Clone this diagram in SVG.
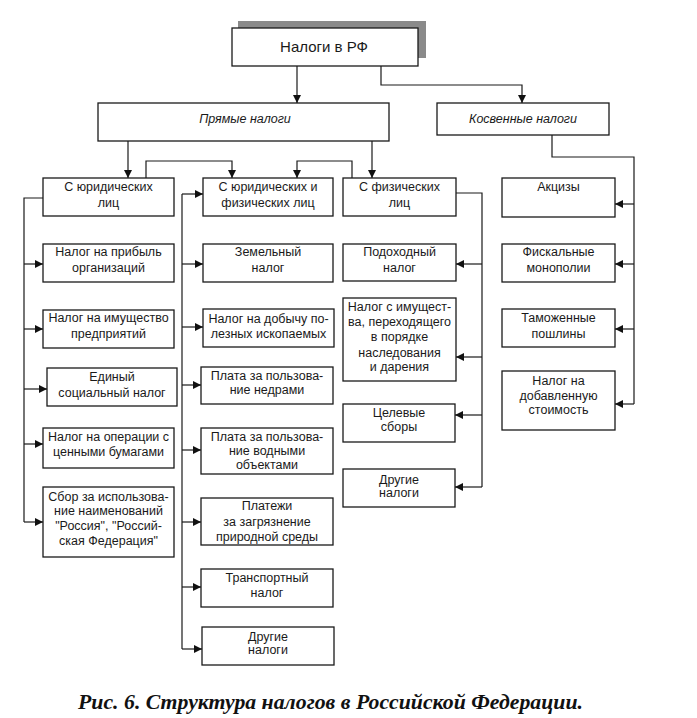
<svg xmlns="http://www.w3.org/2000/svg" width="697" height="718" viewBox="0 0 697 718">
<defs>
<marker id="ah" viewBox="0 0 10 10" refX="10" refY="5" markerWidth="9" markerHeight="8" markerUnits="userSpaceOnUse" orient="auto"><path d="M0,0 L10,5 L0,10 Z" fill="#111"/></marker>
<style>
.b{fill:#fff;stroke:#1a1a1a;stroke-width:1.3}
.t{font-family:"Liberation Sans",Arial,sans-serif;font-size:12.5px;fill:#1a1a1a;text-anchor:middle}
.i{font-style:italic}
.c{fill:none;stroke:#1a1a1a;stroke-width:1.2}
.a{marker-end:url(#ah)}
</style>
</defs>
<rect width="697" height="718" fill="#fff"/>
<g id="connectors">
<path class="c a" d="M297,66 V103"/>
<path class="c a" d="M381,66 V85 H522 V103"/>
<path class="c a" d="M128,141 V178"/>
<path class="c a" d="M372,141 V178"/>
<path class="c a" d="M146,178 V161 H232 V178"/>
<path class="c a" d="M352,178 V161 H297 V178"/>
<path class="c" d="M552,135 V157 H634 V404"/>
<path class="c a" d="M634,204 H615"/>
<path class="c a" d="M634,264 H615"/>
<path class="c a" d="M634,329 H615"/>
<path class="c a" d="M634,404 H615"/>
<path class="c" d="M43,198 H24 V522"/>
<path class="c a" d="M24,264 H43"/>
<path class="c a" d="M24,329 H43"/>
<path class="c a" d="M24,389 H47"/>
<path class="c a" d="M24,444 H43"/>
<path class="c a" d="M24,522 H43"/>
<path class="c" d="M182,194 V649"/>
<path class="c a" d="M182,194 H203"/>
<path class="c a" d="M182,264 H203"/>
<path class="c a" d="M182,327 H203"/>
<path class="c a" d="M182,385 H201"/>
<path class="c a" d="M182,450 H201"/>
<path class="c a" d="M182,522 H201"/>
<path class="c a" d="M182,587 H201"/>
<path class="c a" d="M182,649 H202"/>
<path class="c" d="M456,193 H482 V487"/>
<path class="c a" d="M482,264 H456"/>
<path class="c a" d="M482,357 H456"/>
<path class="c a" d="M482,415 H455"/>
<path class="c a" d="M482,487 H455"/>
</g>
<g id="n-top">
<rect x="238" y="21" width="188" height="37" fill="#8a8a8a"/>
<rect class="b" x="232" y="28" width="186" height="38"/>
<text class="t" x="324" y="52" style="font-size:15px">Налоги в РФ</text>
</g>
<g id="n-pryamye"><rect class="b" x="98" y="103" width="291" height="38"/><text class="t i" x="245" y="122.5">Прямые налоги</text></g>
<g id="n-kosv"><rect class="b" x="437" y="103" width="172" height="32"/><text class="t i" x="523" y="122.5">Косвенные налоги</text></g>

<g id="n-L0"><rect class="b" x="43" y="178" width="131" height="38"/><text class="t" x="108.5" y="191">С юридических</text><text class="t" x="108.5" y="206.5">лиц</text></g>
<g id="n-L1"><rect class="b" x="43" y="244" width="131" height="38"/><text class="t" x="108.5" y="256">Налог на прибыль</text><text class="t" x="108.5" y="271.5">организаций</text></g>
<g id="n-L2"><rect class="b" x="43" y="310" width="131" height="38"/><text class="t" x="108.5" y="322">Налог на имущество</text><text class="t" x="108.5" y="338">предприятий</text></g>
<g id="n-L3"><rect class="b" x="47" y="368" width="130" height="38"/><text class="t" x="112" y="381">Единый</text><text class="t" x="112" y="396.5">социальный налог</text></g>
<g id="n-L4"><rect class="b" x="43" y="428" width="131" height="40"/><text class="t" x="108.5" y="440.5">Налог на операции с</text><text class="t" x="108.5" y="456">ценными бумагами</text></g>
<g id="n-L5"><rect class="b" x="43" y="487" width="131" height="70"/><text class="t" x="108.5" y="501">Сбор за использова-</text><text class="t" x="108.5" y="515">ние наименований</text><text class="t" x="108.5" y="530">"Россия", "Россий-</text><text class="t" x="108.5" y="545">ская Федерация"</text></g>

<g id="n-M0"><rect class="b" x="203" y="178" width="130" height="38"/><text class="t" x="268" y="191">С юридических и</text><text class="t" x="268" y="206.5">физических лиц</text></g>
<g id="n-M1"><rect class="b" x="203" y="244" width="130" height="38"/><text class="t" x="268" y="256">Земельный</text><text class="t" x="268" y="271.5">налог</text></g>
<g id="n-M2"><rect class="b" x="203" y="309" width="131" height="38"/><text class="t" x="268.5" y="322.5">Налог на добычу по-</text><text class="t" x="268.5" y="338">лезных ископаемых</text></g>
<g id="n-M3"><rect class="b" x="201" y="367" width="132" height="37"/><text class="t" x="267" y="379.5">Плата за пользова-</text><text class="t" x="267" y="393.5">ние недрами</text></g>
<g id="n-M4"><rect class="b" x="201" y="428" width="132" height="46"/><text class="t" x="267" y="440.5">Плата за пользова-</text><text class="t" x="267" y="454.5">ние водными</text><text class="t" x="267" y="468.5">объектами</text></g>
<g id="n-M5"><rect class="b" x="201" y="498" width="132" height="47"/><text class="t" x="267" y="510">Платежи</text><text class="t" x="267" y="526">за загрязнение</text><text class="t" x="267" y="541">природной среды</text></g>
<g id="n-M6"><rect class="b" x="201" y="569" width="132" height="38"/><text class="t" x="267" y="581.5">Транспортный</text><text class="t" x="267" y="597">налог</text></g>
<g id="n-M7"><rect class="b" x="202" y="627" width="132" height="38"/><text class="t" x="268" y="641">Другие</text><text class="t" x="268" y="653.5">налоги</text></g>

<g id="n-R0"><rect class="b" x="343" y="178" width="113" height="38"/><text class="t" x="399.5" y="191">С физических</text><text class="t" x="399.5" y="206.5">лиц</text></g>
<g id="n-R1"><rect class="b" x="343" y="244" width="113" height="37"/><text class="t" x="399.5" y="256">Подоходный</text><text class="t" x="399.5" y="271.5">налог</text></g>
<g id="n-R2"><rect class="b" x="343" y="298" width="113" height="83"/><text class="t" x="399.5" y="311">Налог с имущест-</text><text class="t" x="399.5" y="326">ва, переходящего</text><text class="t" x="399.5" y="341">в порядке</text><text class="t" x="399.5" y="356.5">наследования</text><text class="t" x="399.5" y="371">и дарения</text></g>
<g id="n-R3"><rect class="b" x="343" y="404" width="112" height="38"/><text class="t" x="399" y="417">Целевые</text><text class="t" x="399" y="431">сборы</text></g>
<g id="n-R4"><rect class="b" x="343" y="469" width="112" height="38"/><text class="t" x="399" y="483.5">Другие</text><text class="t" x="399" y="497">налоги</text></g>

<g id="n-K0"><rect class="b" x="502" y="178" width="113" height="39"/><text class="t" x="558.5" y="191">Акцизы</text></g>
<g id="n-K1"><rect class="b" x="502" y="244" width="113" height="38"/><text class="t" x="558.5" y="256">Фискальные</text><text class="t" x="558.5" y="271.5">монополии</text></g>
<g id="n-K2"><rect class="b" x="502" y="309" width="113" height="38"/><text class="t" x="558.5" y="322">Таможенные</text><text class="t" x="558.5" y="338">пошлины</text></g>
<g id="n-K3"><rect class="b" x="502" y="371" width="113" height="59"/><text class="t" x="558.5" y="384.5">Налог на</text><text class="t" x="558.5" y="399.5">добавленную</text><text class="t" x="558.5" y="413.5">стоимость</text></g>

<text x="78" y="709" textLength="505" lengthAdjust="spacingAndGlyphs" style="font-family:'Liberation Serif','Times New Roman',serif;font-size:20px;font-weight:bold;font-style:italic;fill:#111">Рис. 6. Структура налогов в Российской Федерации.</text>
</svg>
